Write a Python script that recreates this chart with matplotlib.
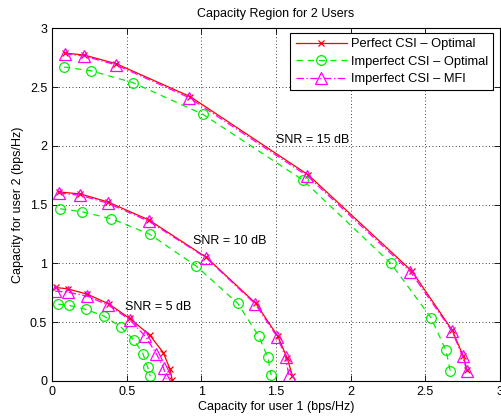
import matplotlib
matplotlib.use("Agg")
import matplotlib.pyplot as plt

plt.rcParams['font.family'] = ['Liberation Sans', 'DejaVu Sans']

# SNR = 15 dB
p15_x = [0.085, 0.215, 0.43, 0.926, 1.716, 2.41, 2.68, 2.754, 2.78]
p15_y = [2.791, 2.774, 2.70, 2.42, 1.754, 0.935, 0.432, 0.213, 0.091]
i15_x = [0.081, 0.262, 0.54, 1.01, 1.68, 2.27, 2.537, 2.638, 2.667]
i15_y = [2.672, 2.64, 2.54, 2.27, 1.71, 1.0, 0.54, 0.262, 0.085]
m15_x = [0.085, 0.215, 0.43, 0.92, 1.71, 2.40, 2.678, 2.75, 2.778]
m15_y = [2.785, 2.765, 2.69, 2.41, 1.745, 0.93, 0.426, 0.21, 0.083]

# SNR = 10 dB
p10_x = [0.045, 0.19, 0.376, 0.649, 1.034, 1.365, 1.512, 1.575, 1.61]
p10_y = [1.609, 1.592, 1.523, 1.37, 1.052, 0.66, 0.381, 0.195, 0.045]
i10_x = [0.054, 0.201, 0.398, 0.653, 0.966, 1.244, 1.385, 1.445, 1.468]
i10_y = [1.466, 1.44, 1.381, 1.25, 0.978, 0.66, 0.381, 0.2, 0.049]
m10_x = [0.045, 0.19, 0.376, 0.649, 1.034, 1.362, 1.508, 1.564, 1.586]
m10_y = [1.60, 1.58, 1.512, 1.359, 1.046, 0.654, 0.375, 0.205, 0.049]

# SNR = 5 dB
p5_x = [0.025, 0.105, 0.236, 0.379, 0.521, 0.655, 0.745, 0.79, 0.805]
p5_y = [0.796, 0.784, 0.739, 0.657, 0.532, 0.39, 0.242, 0.102, 0.01]
i5_x = [0.042, 0.116, 0.228, 0.349, 0.461, 0.55, 0.608, 0.64, 0.658]
i5_y = [0.654, 0.643, 0.609, 0.552, 0.46, 0.347, 0.234, 0.12, 0.04]
m5_x = [0.02, 0.11, 0.237, 0.378, 0.519, 0.624, 0.698, 0.747, 0.765]
m5_y = [0.765, 0.755, 0.722, 0.645, 0.523, 0.381, 0.234, 0.114, 0.02]

labels = ['Perfect CSI \u2013 Optimal', 'Imperfect CSI \u2013 Optimal', 'Imperfect CSI \u2013 MFI']
snr_text = ['SNR = 15 dB', 'SNR = 10 dB', 'SNR = 5 dB']
snr_pos = [(1.50, 2.05), (0.945, 1.19), (0.49, 0.63)]

fig = plt.figure(figsize=(5.02, 4.19), dpi=100)
ax = fig.add_axes([0.1036, 0.0907, 0.8924, 0.8413])

red_kw = dict(color='#ff0000', linestyle='-', marker='x', markersize=5, linewidth=0.9, markeredgewidth=0.9)
grn_kw = dict(color='#00ee00', linestyle=(0, (5, 4)), marker='o', markersize=7, markerfacecolor='none', linewidth=0.9, markeredgewidth=0.9)
mag_kw = dict(color='#ff00ff', linestyle=(0, (6, 2, 1, 2)), marker='^', markersize=8.5, markerfacecolor='none', linewidth=0.9, markeredgewidth=0.9)

ax.plot(p15_x, p15_y, label=labels[0], **red_kw)
ax.plot(i15_x, i15_y, label=labels[1], **grn_kw)
ax.plot(m15_x, m15_y, label=labels[2], **mag_kw)
ax.plot(p10_x, p10_y, **red_kw)
ax.plot(i10_x, i10_y, **grn_kw)
ax.plot(m10_x, m10_y, **mag_kw)
ax.plot(p5_x, p5_y, **red_kw)
ax.plot(i5_x, i5_y, **grn_kw)
ax.plot(m5_x, m5_y, **mag_kw)

for t, (x, y) in zip(snr_text, snr_pos):
    ax.text(x, y, t, fontsize=9, va='center', ha='left')

ax.set_xlim(0, 3)
ax.set_ylim(0, 3)
ax.set_xticks([0, 0.5, 1, 1.5, 2, 2.5, 3])
ax.set_yticks([0, 0.5, 1, 1.5, 2, 2.5, 3])
ax.set_xticklabels(['0', '0.5', '1', '1.5', '2', '2.5', '3'])
ax.set_yticklabels(['0', '0.5', '1', '1.5', '2', '2.5', '3'])
ax.tick_params(direction='in', top=True, right=True, labelsize=9, length=4, width=0.6)
ax.grid(True, color='black', linestyle=(0, (1, 3)), linewidth=0.6)
for s in ax.spines.values():
    s.set_linewidth(0.8)

ax.set_title('Capacity Region for 2 Users', fontsize=9, pad=8)
ax.set_xlabel('Capacity for user 1 (bps/Hz)', fontsize=9, labelpad=2)
ax.set_ylabel('Capacity for user 2 (bps/Hz)', fontsize=9, labelpad=4)

leg = ax.legend(loc='upper right', bbox_to_anchor=(0.984, 0.987), fontsize=9.3,
                fancybox=False, framealpha=1, edgecolor='black', borderaxespad=0,
                handlelength=4.0, labelspacing=0.42, borderpad=0.4,
                handletextpad=0.25)
leg.get_frame().set_linewidth(0.8)

fig.savefig('out.png', dpi=100)
